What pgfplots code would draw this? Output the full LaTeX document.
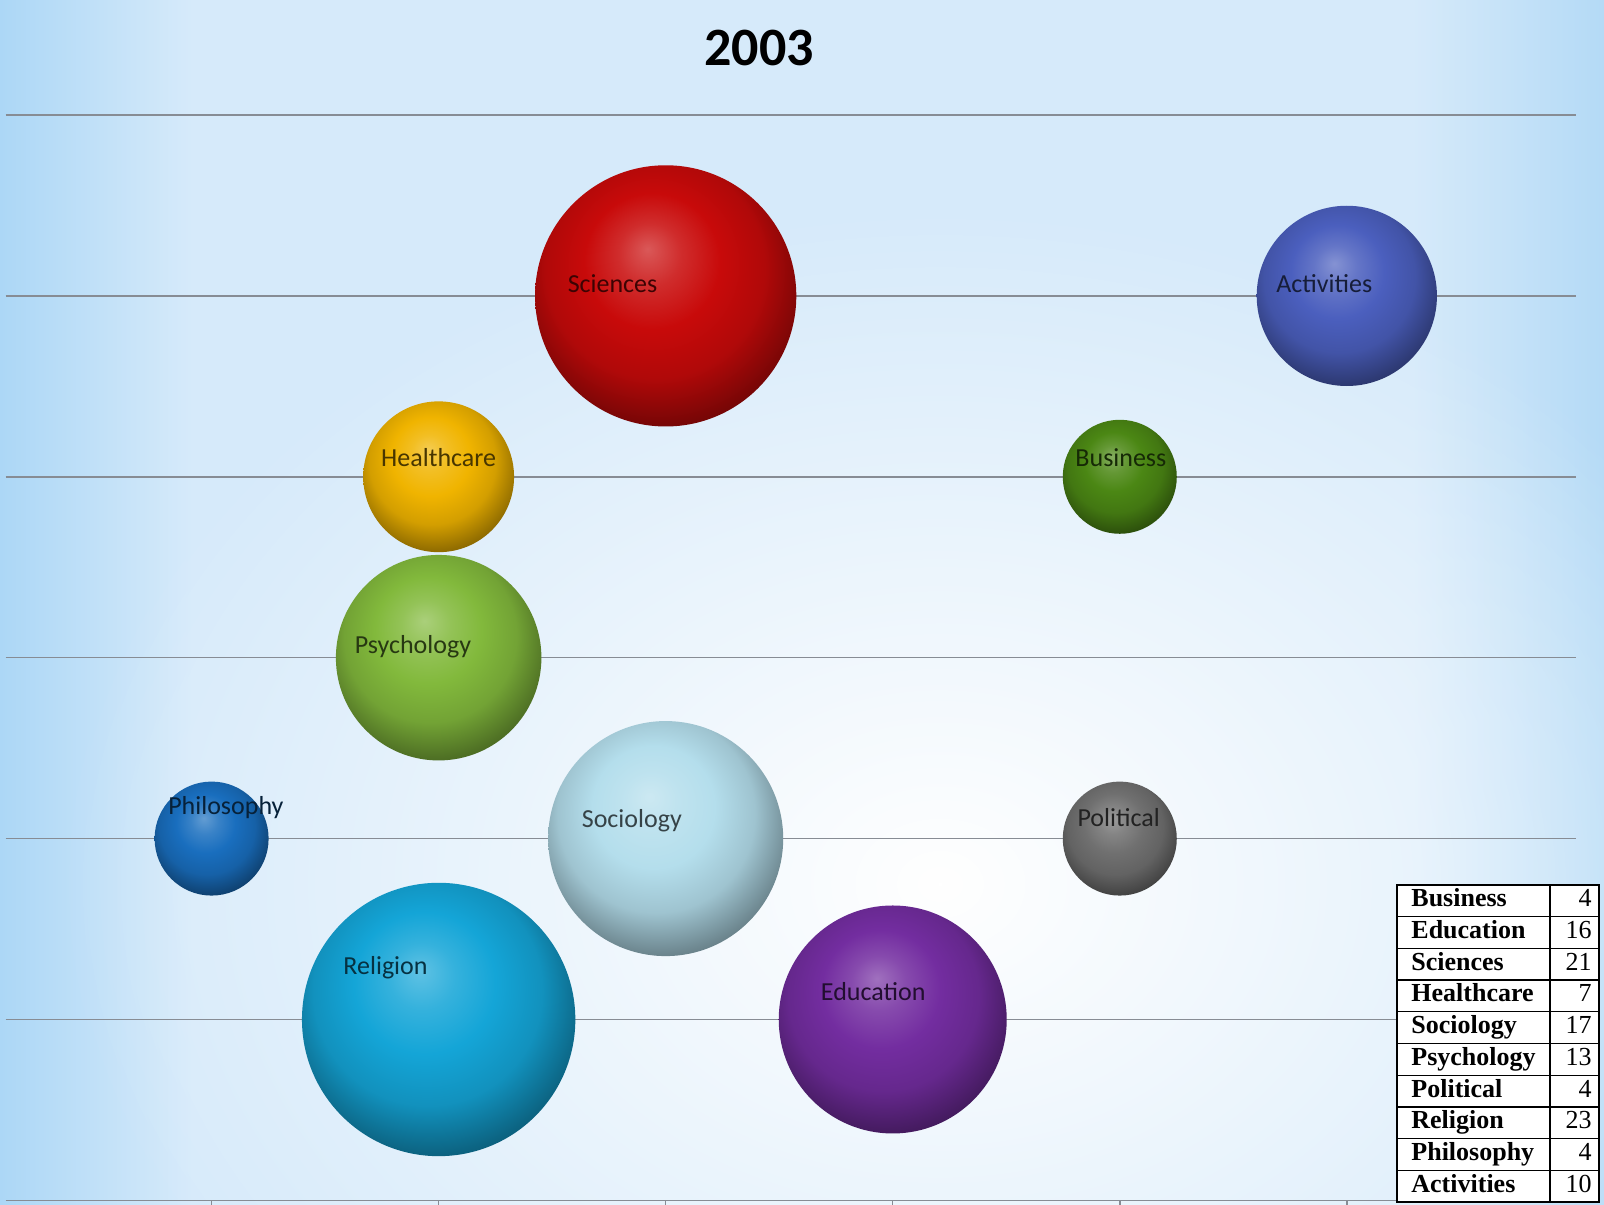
\documentclass[border=0pt]{standalone}
\usepackage{fontspec}
\setmainfont{Carlito}
\newfontfamily\tabfont{Liberation Serif}
\usepackage{pgfplots}
\pgfplotsset{compat=1.18}
\usetikzlibrary{fadings}

\definecolor{cSci}{RGB}{200,10,10}
\definecolor{cAct}{RGB}{75,95,190}
\definecolor{cHea}{RGB}{240,180,0}
\definecolor{cBus}{RGB}{75,135,20}
\definecolor{cPsy}{RGB}{130,185,60}
\definecolor{cSoc}{RGB}{180,222,236}
\definecolor{cPhi}{RGB}{25,110,190}
\definecolor{cPol}{RGB}{112,112,112}
\definecolor{cRel}{RGB}{20,165,215}
\definecolor{cEdu}{RGB}{115,45,160}
\definecolor{gridgray}{RGB}{135,140,148}
\definecolor{edgeL}{RGB}{172,215,246}
\definecolor{edgeR}{RGB}{180,218,246}
\definecolor{bgA}{RGB}{214,234,250}

\colorlet{bubcol}{red}
\pgfdeclareradialshading[bubcol]{bub}{\pgfqpoint{-3.5bp}{9bp}}{%
  color(0bp)=(bubcol!68!white);
  color(6bp)=(bubcol!86!white);
  color(13bp)=(bubcol);
  color(21bp)=(bubcol!88!black);
  color(28bp)=(bubcol!62!black);
  color(34bp)=(bubcol!42!black);
  color(50bp)=(bubcol!42!black)}
\pgfdeclareplotmark{ball}{%
  \pgfpathcircle{\pgfpointorigin}{\pgfplotmarksize}%
  \pgfshadepath{bub}{0}%
  \pgfusepath{discard}}
\tikzset{bub/.code={\colorlet{bubcol}{#1}}}
\pgfdeclarehorizontalshading{bgh}{100bp}{%
  color(0bp)=(edgeL); color(25bp)=(edgeL); color(31bp)=(bgA);
  color(69bp)=(bgA); color(75bp)=(edgeR); color(100bp)=(edgeR)}
\tikzfading[name=fadeout, inner color=transparent!0, outer color=transparent!100]

\pgfplotsset{
  bubble/.style={scatter, only marks, mark=ball,
    visualization depends on={\thisrow{s}\as\sz},
    scatter/@pre marker code/.append style={/tikz/mark size={14.25*sqrt(\sz)}}},
}
\tikzset{lab/.style={font=\fontsize{13}{15}\selectfont, inner sep=0pt, text height=9pt, text depth=0pt, anchor=center}}

\begin{document}
\begin{tikzpicture}[x=1pt,y=1pt]
\useasboundingbox (0,0) rectangle (802,602);
\shade[shading=bgh] (0,0) rectangle (802,602);
\fill[white, path fading=fadeout] (470,160) ellipse [x radius=440, y radius=340];

\node[font=\fontsize{27}{32}\selectfont\bfseries] at (379.5,578) {2003};

\begin{axis}[at={(2.5,2)}, anchor=south west, scale only axis,
  width=785pt, height=542.7pt,
  xmin=0.093, xmax=7.008, ymin=0, ymax=6, clip=false,
  axis line style={draw=none},
  ytick={0,...,6}, yticklabels={}, ymajorgrids,
  major grid style={gridgray, line width=0.75pt},
  y tick style={draw=none},
  xtick={1,...,6}, xticklabels={}, xtick pos=bottom, tick align=outside,
  x tick style={gridgray, line width=0.75pt}, major tick length=8pt]

\addplot[bubble, mark options={bub=cSci}] table[row sep=\\] {x y s\\ 3 5 21\\};
\addplot[bubble, mark options={bub=cAct}] table[row sep=\\] {x y s\\ 6 5 10\\};
\addplot[bubble, mark options={bub=cHea}] table[row sep=\\] {x y s\\ 2 4 7\\};
\addplot[bubble, mark options={bub=cBus}] table[row sep=\\] {x y s\\ 5 4 4\\};
\addplot[bubble, mark options={bub=cPsy}] table[row sep=\\] {x y s\\ 2 3 13\\};
\addplot[bubble, mark options={bub=cPhi}] table[row sep=\\] {x y s\\ 1 2 4\\};
\addplot[bubble, mark options={bub=cSoc}] table[row sep=\\] {x y s\\ 3 2 17\\};
\addplot[bubble, mark options={bub=cPol}] table[row sep=\\] {x y s\\ 5 2 4\\};
\addplot[bubble, mark options={bub=cRel}] table[row sep=\\] {x y s\\ 2 1 23\\};
\addplot[bubble, mark options={bub=cEdu}] table[row sep=\\] {x y s\\ 4 1 16\\};

\coordinate (lSci) at (axis cs:2.766,5.068);
\coordinate (lAct) at (axis cs:5.901,5.068);
\coordinate (lHea) at (axis cs:2.0,4.106);
\coordinate (lBus) at (axis cs:5.005,4.106);
\coordinate (lPsy) at (axis cs:1.887,3.071);
\coordinate (lSoc) at (axis cs:2.851,2.110);
\coordinate (lPhi) at (axis cs:1.063,2.183);
\coordinate (lPol) at (axis cs:4.995,2.115);
\coordinate (lRel) at (axis cs:1.766,1.301);
\coordinate (lEdu) at (axis cs:3.914,1.154);
\end{axis}

\node[lab, text=cSci!30!black] at (lSci) {Sciences};
\node[lab, text=cAct!30!black] at (lAct) {Activities};
\node[lab, text=cHea!30!black] at (lHea) {Healthcare};
\node[lab, text=cBus!30!black] at (lBus) {Business};
\node[lab, text=cPsy!30!black] at (lPsy) {Psychology};
\node[lab, text=cSoc!30!black] at (lSoc) {Sociology};
\node[lab, text=cPhi!30!black] at (lPhi) {Philosophy};
\node[lab, text=cPol!30!black] at (lPol) {Political};
\node[lab, text=cRel!30!black] at (lRel) {Religion};
\node[lab, text=cEdu!30!black] at (lEdu) {Education};

% data table
\fill[white] (698.5,1) rectangle (799.5,159.5);
\foreach \i in {1,...,9} \draw[line width=0.6pt] (698.5,{1+\i*15.85}) -- (799.5,{1+\i*15.85});
\draw[line width=0.6pt] (775,1) -- (775,159.5);
\draw[line width=0.8pt] (698.5,1) rectangle (799.5,159.5);
\foreach \n/\v [count=\i] in {Business/4, Education/16, Sciences/21, Healthcare/7, Sociology/17, Psychology/13, Political/4, Religion/23, Philosophy/4, Activities/10}{
  \node[anchor=west, inner sep=0pt, text height=8.8pt, text depth=2.8pt, font=\tabfont\fontsize{13}{15}\selectfont\bfseries] at (705.5,{159.5-(\i-0.5)*15.85}) {\n};
  \node[anchor=east, inner sep=0pt, text height=8.8pt, text depth=2.8pt, font=\tabfont\fontsize{13}{15}\selectfont] at (796,{159.5-(\i-0.5)*15.85}) {\v};
}
\end{tikzpicture}
\end{document}
